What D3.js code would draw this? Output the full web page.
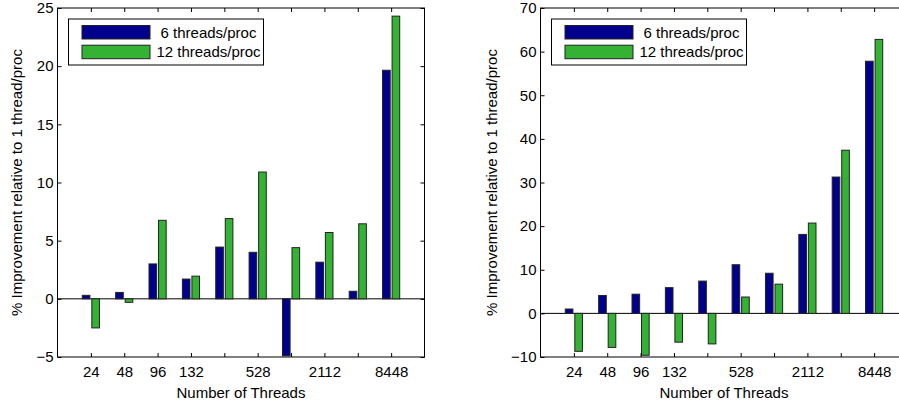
<!DOCTYPE html>
<html>
<head>
<meta charset="utf-8">
<script src="https://cdn.jsdelivr.net/npm/d3@7"></script>
<style>
  body { margin: 0; background: #fff; }
  svg { display: block; font-family: "Liberation Sans", Arial, sans-serif; }
</style>
</head>
<body>
<div class="chart"></div>
<script>
// thread counts, one group per entry; only some get a printed tick label
const categories = [24, 48, 96, 132, 264, 528, 1056, 2112, 4224, 8448];
const tickLabels = ['24', '48', '96', '132', '', '528', '', '2112', '', '8448'];
const seriesNames = ['6 threads/proc', '12 threads/proc'];

// left panel
const left6  = [0.3, 0.55, 3.0, 1.7, 4.45, 4.0, -4.9, 3.15, 0.65, 19.65];
const left12 = [-2.5, -0.3, 6.75, 1.95, 6.9, 10.9, 4.4, 5.7, 6.45, 24.3];
const leftYTicks = [-5, 0, 5, 10, 15, 20, 25];

// right panel
const right6  = [1.0, 4.1, 4.4, 5.9, 7.4, 11.15, 9.2, 18.1, 31.25, 57.8];
const right12 = [-8.7, -7.8, -9.6, -6.6, -7.0, 3.75, 6.7, 20.7, 37.4, 62.8];
const rightYTicks = [-10, 0, 10, 20, 30, 40, 50, 60, 70];

const colors = ['#00008c', '#33b233'];
const W = 899, H = 407;

let svg = d3.select('.chart')
  .append('svg')
    .attr('width', W)
    .attr('height', H);

function drawPanel(left, s6, s12, yTicks, ylabelX) {
  let width = 367, height = 349, top = 8;
  let g = svg.append('g')
    .attr('transform', 'translate(' + left + ', ' + top + ')');

  let x = d3.scaleLinear().domain([0, 11]).range([0, width]);
  let y = d3.scaleLinear()
    .domain([yTicks[0], yTicks[yTicks.length - 1]])
    .range([height, 0]);

  // baseline at zero
  g.append('line')
    .attr('x1', 0).attr('x2', width)
    .attr('y1', y(0)).attr('y2', y(0))
    .attr('stroke', '#000').attr('stroke-width', 1);

  // grouped bars, matlab style offsets
  let groupWidth = Math.min(0.8, 2 / 3.5);
  let barW = groupWidth / 2 * 0.8;
  [s6, s12].forEach((vals, si) => {
    let off = -groupWidth / 2 + (2 * si + 1) * groupWidth / 4;
    g.selectAll('rect.s' + si)
      .data(vals)
      .enter()
      .append('rect')
        .attr('class', 's' + si)
        .attr('x', (d, i) => x(i + 1 + off - barW / 2))
        .attr('width', x(barW) - x(0))
        .attr('y', d => y(Math.max(0, d)))
        .attr('height', d => Math.abs(y(d) - y(0)))
        .attr('fill', colors[si])
        .attr('stroke', '#222')
        .attr('stroke-width', 1);
  });

  let idx = categories.map((c, i) => i + 1);

  // axes, ticks pointing inward
  let yAxis = d3.axisLeft(y).tickValues(yTicks).tickSizeInner(-4).tickSizeOuter(0).tickPadding(4);
  let yAxisR = d3.axisRight(y).tickValues(yTicks).tickSizeInner(-4).tickSizeOuter(0).tickFormat('');
  let xAxis = d3.axisBottom(x).tickValues(idx).tickSizeInner(-4).tickSizeOuter(0).tickPadding(9)
    .tickFormat((d, i) => tickLabels[i]);
  let xAxisT = d3.axisTop(x).tickValues(idx).tickSizeInner(-4).tickSizeOuter(0).tickFormat('');

  g.append('g').call(yAxis);
  g.append('g').attr('transform', `translate(${width}, 0)`).call(yAxisR);
  g.append('g').attr('transform', `translate(0, ${height})`).call(xAxis);
  g.append('g').call(xAxisT);

  g.selectAll('.domain').remove();
  g.selectAll('.tick line').attr('stroke', '#000');
  g.selectAll('.tick text').attr('font-size', 15).attr('fill', '#000')
    .attr('font-family', '"Liberation Sans", Arial, sans-serif');

  // frame
  g.append('rect')
    .attr('width', width).attr('height', height)
    .attr('fill', 'none').attr('stroke', '#000').attr('stroke-width', 1);

  g.append('text')
    .attr('x', width / 2).attr('y', 390)
    .attr('text-anchor', 'middle')
    .attr('font-size', 15)
    .text('Number of Threads');

  g.append('text')
    .attr('transform', `translate(${ylabelX}, ${height / 2}) rotate(-90)`)
    .attr('text-anchor', 'middle')
    .attr('dy', '0.35em')
    .attr('font-size', 15)
    .text('% Improvement relative to 1 thread/proc');

  // legend
  let lg = g.append('g').attr('transform', 'translate(11, 11)');
  lg.append('rect')
    .attr('width', 195).attr('height', 46)
    .attr('fill', '#fff').attr('stroke', '#000').attr('stroke-width', 1);
  seriesNames.forEach((name, i) => {
    lg.append('rect')
      .attr('x', 13.5).attr('y', 6.5 + i * 19.7)
      .attr('width', 68).attr('height', 13.5)
      .attr('fill', colors[i]).attr('stroke', '#222');
    lg.append('text')
      .attr('x', 140).attr('y', 13.5 + i * 19.7)
      .attr('dy', '0.35em')
      .attr('text-anchor', 'middle')
      .attr('font-size', 15)
      .text(name);
  });
}

drawPanel(57.5, left6, left12, leftYTicks, -40.8);
drawPanel(540.5, right6, right12, rightYTicks, -48.8);
</script>
</body>
</html>
